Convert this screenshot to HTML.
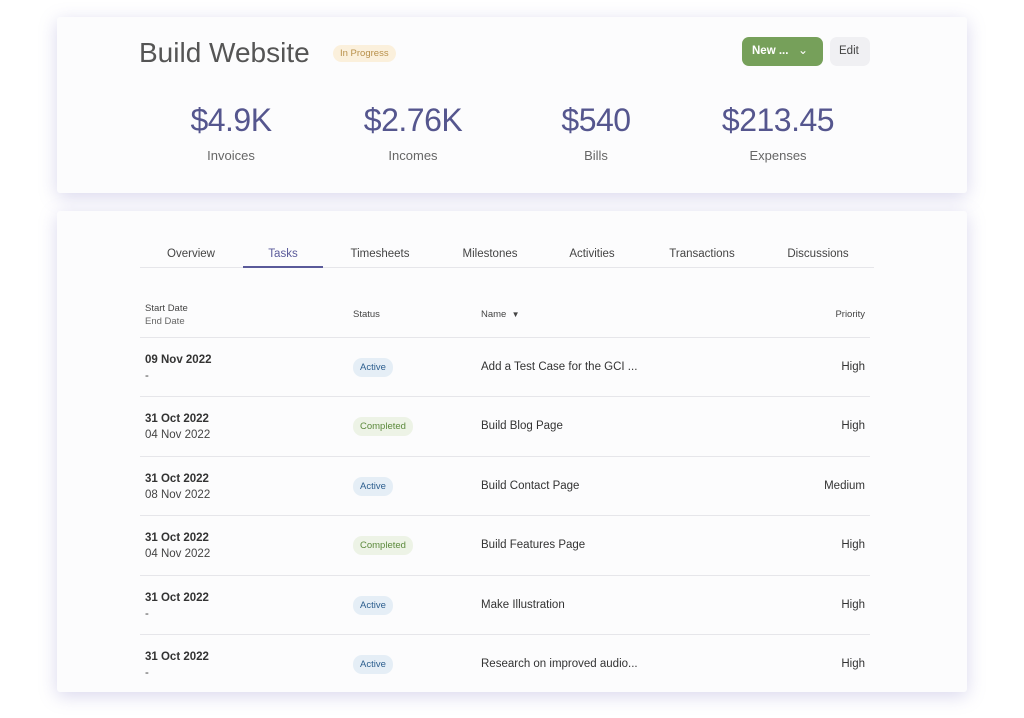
<!DOCTYPE html>
<html><head><meta charset="utf-8"><style>
*{margin:0;padding:0;box-sizing:border-box}
body{width:1024px;height:718px;background:#fff;position:relative;font-family:"Liberation Sans",sans-serif;overflow:hidden}
.card{position:absolute;left:57px;width:910px;background:#fcfcfd;border-radius:3px;box-shadow:0 4px 18px rgba(120,110,190,0.28)}
.a{position:absolute;white-space:nowrap}
.stat{position:absolute;text-align:center;width:180px}
.stat .n{font-size:32px;color:#55568e;letter-spacing:-0.5px}
.stat .l{font-size:13px;color:#666;margin-top:9px}
.tab{position:absolute;top:248px;font-size:11.5px;color:#444;text-align:center}
.hr{position:absolute;left:140px;width:730px;height:1px;background:#e6e6ea}
.d1{font-size:11.5px;color:#333;font-weight:bold}
.d2{font-size:11.5px;color:#444}
.pill{position:absolute;left:353px;font-size:9.5px;padding:4px 7px;border-radius:9px}
.act{background:#e5eef6;color:#2c5e8e}
.cmp{background:#edf3e6;color:#5c8a3c}
.nm{position:absolute;left:481px;font-size:11.5px;color:#333}
.pr{position:absolute;right:159px;font-size:11.5px;color:#333}
</style></head><body>
<div class="card" style="top:17px;height:176px"></div>
<div class="card" style="top:211px;height:481px"></div>

<div class="a" style="left:139px;top:37px;font-size:28px;color:#555">Build Website</div>
<div class="a" style="left:333px;top:45px;font-size:9.5px;color:#b8904a;background:#fbf0dc;padding:3px 7px;border-radius:9px">In Progress</div>
<div class="a" style="left:742px;top:37px;width:81px;height:29px;background:#76a05a;border-radius:7px;color:#fff;font-size:11.5px;font-weight:bold;padding:8px 0 0 10px">New ...<span style="position:absolute;left:56px;top:6px;font-weight:normal;font-size:12px">&#8964;</span></div>
<div class="a" style="left:830px;top:37px;width:40px;height:29px;background:#f0f0f3;border-radius:7px;color:#444;font-size:11.5px;padding:8px 0 0 9px">Edit</div>

<div class="stat" style="left:141px;top:102px"><div class="n">$4.9K</div><div class="l">Invoices</div></div>
<div class="stat" style="left:323px;top:102px"><div class="n">$2.76K</div><div class="l">Incomes</div></div>
<div class="stat" style="left:506px;top:102px"><div class="n">$540</div><div class="l">Bills</div></div>
<div class="stat" style="left:688px;top:102px"><div class="n">$213.45</div><div class="l">Expenses</div></div>

<div class="tab" style="left:150px;width:82px">Overview</div>
<div class="tab" style="left:243px;width:80px;color:#5a5a9a">Tasks</div>
<div class="tab" style="left:340px;width:80px">Timesheets</div>
<div class="tab" style="left:450px;width:80px">Milestones</div>
<div class="tab" style="left:552px;width:80px">Activities</div>
<div class="tab" style="left:660px;width:84px">Transactions</div>
<div class="tab" style="left:776px;width:84px">Discussions</div>
<div class="hr" style="top:267px;left:140px;width:734px"></div>
<div class="a" style="left:243px;top:266px;width:80px;height:2px;background:#5a5a9a"></div>

<div class="a" style="left:145px;top:302px;font-size:9.5px;color:#444;line-height:13px">Start Date<br><span style="color:#666">End Date</span></div>
<div class="a" style="left:353px;top:309px;font-size:9.5px;color:#444">Status</div>
<div class="a" style="left:481px;top:309px;font-size:9.5px;color:#444">Name &nbsp;<span style="font-size:8px">&#9660;</span></div>
<div class="a" style="right:159px;top:309px;font-size:9.5px;color:#444">Priority</div>

<div class="hr" style="top:337px"></div>
<div class="hr" style="top:396px"></div>
<div class="hr" style="top:456px"></div>
<div class="hr" style="top:515px"></div>
<div class="hr" style="top:575px"></div>
<div class="hr" style="top:634px"></div>

<div class="a" style="left:145px;top:352px;line-height:16px"><div class="d1">09 Nov 2022</div><div class="d2">-</div></div>
<div class="pill act" style="top:358px">Active</div>
<div class="nm" style="top:361px">Add a Test Case for the GCI ...</div>
<div class="pr" style="top:361px">High</div>

<div class="a" style="left:145px;top:411px;line-height:16px"><div class="d1">31 Oct 2022</div><div class="d2">04 Nov 2022</div></div>
<div class="pill cmp" style="top:417px">Completed</div>
<div class="nm" style="top:420px">Build Blog Page</div>
<div class="pr" style="top:420px">High</div>

<div class="a" style="left:145px;top:471px;line-height:16px"><div class="d1">31 Oct 2022</div><div class="d2">08 Nov 2022</div></div>
<div class="pill act" style="top:477px">Active</div>
<div class="nm" style="top:480px">Build Contact Page</div>
<div class="pr" style="top:480px">Medium</div>

<div class="a" style="left:145px;top:530px;line-height:16px"><div class="d1">31 Oct 2022</div><div class="d2">04 Nov 2022</div></div>
<div class="pill cmp" style="top:536px">Completed</div>
<div class="nm" style="top:539px">Build Features Page</div>
<div class="pr" style="top:539px">High</div>

<div class="a" style="left:145px;top:590px;line-height:16px"><div class="d1">31 Oct 2022</div><div class="d2">-</div></div>
<div class="pill act" style="top:596px">Active</div>
<div class="nm" style="top:599px">Make Illustration</div>
<div class="pr" style="top:599px">High</div>

<div class="a" style="left:145px;top:649px;line-height:16px"><div class="d1">31 Oct 2022</div><div class="d2">-</div></div>
<div class="pill act" style="top:655px">Active</div>
<div class="nm" style="top:658px">Research on improved audio...</div>
<div class="pr" style="top:658px">High</div>
</body></html>
